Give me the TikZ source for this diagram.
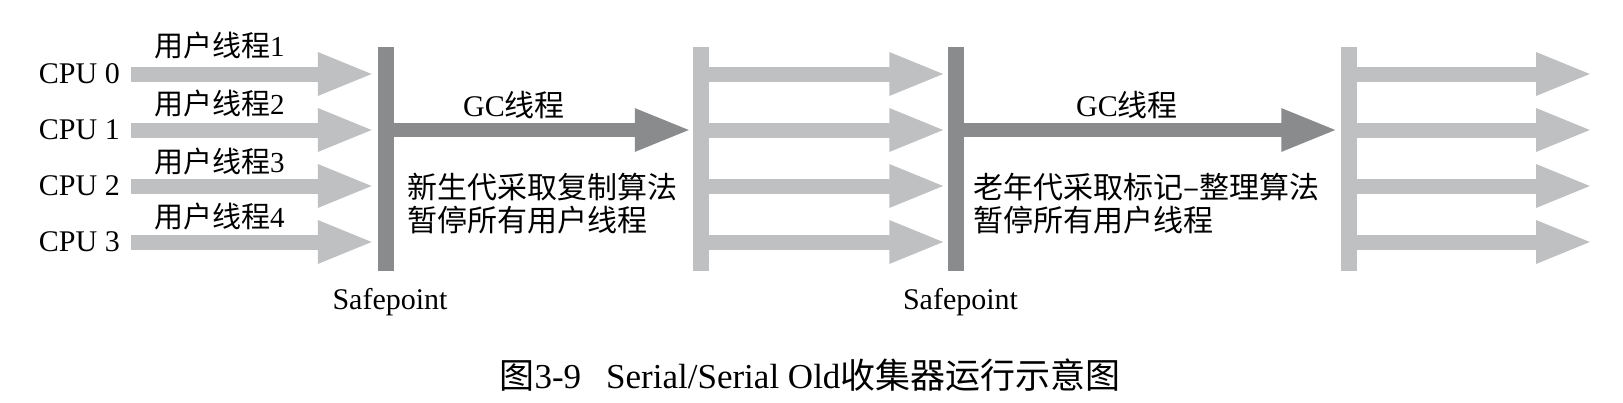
\documentclass[tikz,border=0pt]{standalone}
\usepackage{fontspec}
\setmainfont{Liberation Serif}
\newfontfamily\cjk{Noto Sans CJK SC}
\usetikzlibrary{arrows.meta}
\definecolor{lightg}{RGB}{190,192,193}
\definecolor{darkg}{RGB}{137,139,141}
\begin{document}
\begin{tikzpicture}[x=1pt,y=-1pt,
  lat/.style={font=\fontsize{30}{33}\selectfont, inner sep=0pt},
  cjklab/.style={font=\fontsize{29}{33}\selectfont, inner sep=0pt},
  desc/.style={font=\cjk\fontsize{30}{33}\selectfont, inner sep=0pt, align=left, anchor=west},
  bar/.style={rectangle, minimum width=16pt, minimum height=224pt, inner sep=0pt},
  thr/.style={draw=lightg, line width=15pt, -{Triangle[length=57pt,width=39pt]}},
  gcthr/.style={draw=darkg, line width=14pt, -{Triangle[length=57pt,width=39pt]}}
]
\useasboundingbox (0,0) rectangle (1623,402);

% bars
\node[bar, fill=darkg]  (b1) at (386,159) {};
\node[bar, fill=lightg] (b2) at (701,159) {};
\node[bar, fill=darkg]  (b3) at (955.5,159) {};
\node[bar, fill=lightg] (b4) at (1348.5,159) {};

% CPU labels
\node[lat, anchor=east] (c0) at (120,74) {CPU 0};
\node[lat, anchor=east] (c1) at (120,130) {CPU 1};
\node[lat, anchor=east] (c2) at (120,186) {CPU 2};
\node[lat, anchor=east] (c3) at (120,242) {CPU 3};

% user thread labels
\node[cjklab, anchor=west] (u1) at (154,45)  {{\cjk 用户线程}1};
\node[cjklab, anchor=west] (u2) at (154,103) {{\cjk 用户线程}2};
\node[cjklab, anchor=west] (u3) at (154,161) {{\cjk 用户线程}3};
\node[cjklab, anchor=west] (u4) at (154,216) {{\cjk 用户线程}4};

% free arrow ends
\coordinate (e0) at (1593,74);
\coordinate (e1) at (1593,130);
\coordinate (e2) at (1593,186);
\coordinate (e3) at (1593,242);

% user thread arrows
\foreach \i in {0,...,3} {
  \draw[thr, shorten >=3pt] ([xshift=11pt]c\i.east) -- (b1.west |- c\i.east);
  \draw[thr, shorten >=1pt] (b2.east |- c\i.east) -- (b3.west |- c\i.east);
  \draw[thr] (b4.east |- c\i.east) -- (e\i);
}

% GC arrows
\draw[gcthr, shorten >=1pt] (b1.east |- c1.east) -- (b2.west |- c1.east);
\draw[gcthr, shorten >=2pt] (b3.east |- c1.east) -- (b4.west |- c1.east);

\node[lat] (g1) at (514,105)  {GC{\cjk 线程}};
\node[lat] (g2) at (1127,105) {GC{\cjk 线程}};

\node[desc] (d1) at (407,203.5) {新生代采取复制算法\\暂停所有用户线程};
\node[desc] (d2) at (973,203.5) {老年代采取标记–整理算法\\暂停所有用户线程};

% safepoints
\node[lat] (s1) at ([xshift=4pt,yshift=-31pt]b1.south) {Safepoint};
\node[lat] (s2) at ([xshift=5pt,yshift=-31pt]b3.south) {Safepoint};

% caption
\node[font=\fontsize{35}{40}\selectfont, inner sep=0pt] (cap) at (810,375)
  {{\cjk 图}3-9\hspace{25pt}Serial/Serial Old{\cjk 收集器运行示意图}};
\end{tikzpicture}
\end{document}
